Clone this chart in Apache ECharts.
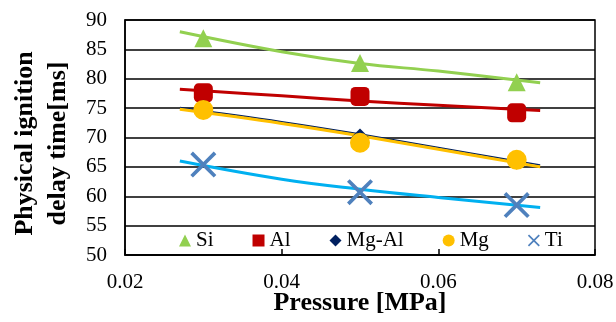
<!DOCTYPE html>
<html>
<head>
<meta charset="utf-8">
<script src="https://cdn.jsdelivr.net/npm/echarts@6/dist/echarts.min.js"></script>
<style>
  html, body { margin: 0; padding: 0; background: #fff; }
  #chart { width: 616px; height: 322px; }
</style>
</head>
<body>
<div id="chart"></div>
<script>
// 测量点 (Pressure MPa, delay ms)
const pressures = [0.03, 0.05, 0.07];
const siValues = [86.9, 82.7, 79.4];
const alValues = [77.6, 77.0, 74.2];
const mgAlValues = [75.0, 70.1, 66.0];
const mgValues = [74.7, 69.1, 66.2];
const tiValues = [65.4, 60.7, 58.5];

// 趋势线
const trendX = [0.027, 0.04, 0.05, 0.06, 0.073];
const siTrend = [88.0, 84.6, 82.6, 81.3, 79.3];
const alTrend = [78.2, 77.1, 76.2, 75.5, 74.6];
const mgAlTrend = [75.1, 72.7, 70.6, 68.3, 65.3];
const mgTrend = [74.8, 72.4, 70.3, 68.0, 65.0];
const tiTrend = [66.0, 62.9, 61.2, 59.8, 58.1];

const xTicks = [0.02, 0.04, 0.06, 0.08];
const yTicks = [50, 55, 60, 65, 70, 75, 80, 85, 90];

const FONT = "'Liberation Serif', 'Times New Roman', serif";
const crossPath = 'path://M0,1 L1,0 L5,4 L9,0 L10,1 L6,5 L10,9 L9,10 L5,6 L1,10 L0,9 L4,5 Z';

const pair = (xs, ys) => xs.map((x, i) => [x, ys[i]]);

const trend = (name, ys, color, width) => ({
  name: name + ' trend',
  type: 'line',
  data: pair(trendX, ys),
  smooth: 0.4,
  showSymbol: false,
  silent: true,
  lineStyle: {color: color, width: width},
  z: 2
});

const marks = (name, ys, symbol, size, color) => ({
  name: name,
  type: 'scatter',
  data: pair(pressures, ys),
  symbol: symbol,
  symbolSize: size,
  itemStyle: {color: color, opacity: 1},
  z: 3
});

const chart = echarts.init(document.getElementById('chart'));

const option = {
  backgroundColor: '#fff',
  animation: false,
  textStyle: {fontFamily: FONT},
  grid: {
    left: 125,
    right: 21,
    top: 20,
    bottom: 67,
    outerBoundsMode: 'none',
    containLabel: false,
    show: true,
    borderColor: '#000',
    borderWidth: 1.5
  },
  legend: {
    left: 179,
    top: 230,
    padding: 0,
    itemWidth: 12,
    itemHeight: 12,
    itemGap: 39,
    itemStyle: {borderWidth: 0},
    textStyle: {fontFamily: FONT, fontSize: 21, color: '#000'},
    data: [
      {name: 'Si', icon: 'triangle'},
      {name: 'Al', icon: 'rect'},
      {name: 'Mg-Al', icon: 'diamond'},
      {name: 'Mg', icon: 'circle'},
      {name: 'Ti', icon: crossPath}
    ]
  },
  xAxis: {
    type: 'value',
    min: xTicks[0],
    max: xTicks[xTicks.length - 1],
    interval: 0.02,
    name: 'Pressure [MPa]',
    nameLocation: 'middle',
    nameGap: 35,
    nameMoveOverlap: false,
    nameTextStyle: {fontFamily: FONT, fontSize: 26, fontWeight: 'bold', color: '#000'},
    axisLine: {lineStyle: {color: '#000', width: 1.5}},
    axisTick: {show: true, inside: true, length: 6, lineStyle: {color: '#000', width: 1.5}},
    axisLabel: {
      fontFamily: FONT, fontSize: 21, color: '#000', margin: 17,
      formatter: v => v.toFixed(2)
    },
    splitLine: {show: false}
  },
  yAxis: {
    type: 'value',
    min: yTicks[0],
    max: yTicks[yTicks.length - 1],
    interval: 5,
    name: 'Physical ignition\ndelay time[ms]',
    nameLocation: 'middle',
    nameRotate: 90,
    nameGap: 50,
    nameMoveOverlap: false,
    nameTextStyle: {
      fontFamily: FONT, fontSize: 26, fontWeight: 'bold', color: '#000', lineHeight: 33,
      padding: [0, 12, 0, 0]
    },
    axisLine: {show: true, lineStyle: {color: '#000', width: 1.5}},
    axisTick: {show: false},
    axisLabel: {fontFamily: FONT, fontSize: 21, color: '#000', margin: 18},
    splitLine: {lineStyle: {color: '#000', width: 1.5}}
  },
  series: [
    trend('Si', siTrend, '#92D050', 3),
    trend('Al', alTrend, '#C00000', 3),
    trend('Mg-Al', mgAlTrend, '#002060', 1.5),
    trend('Mg', mgTrend, '#FFC000', 3),
    trend('Ti', tiTrend, '#00B0F0', 3),
    marks('Si', siValues, 'triangle', 18, '#92D050'),
    marks('Al', alValues, 'roundRect', 19, '#C00000'),
    marks('Mg-Al', mgAlValues, 'diamond', 17, '#002060'),
    marks('Mg', mgValues, 'circle', 20, '#FFC000'),
    marks('Ti', tiValues, crossPath, 26, '#4F81BD')
  ]
};

chart.setOption(option);
</script>
</body>
</html>
